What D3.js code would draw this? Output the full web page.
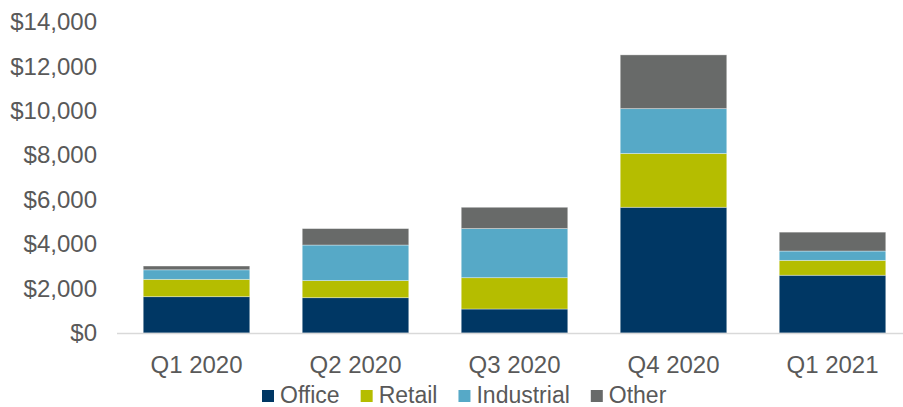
<!DOCTYPE html>
<html lang="en">
<head>
	<meta charset="UTF-8"/>
	<title>Stacked Bar Chart</title>
	<script src="https://d3js.org/d3.v7.min.js"></script>
	<style>
		body { margin: 0; background: #fff; }
	</style>
</head>
<body>
	<div id="chart"></div>

	<script>
	//Window Size
	var w = 903;
	var h = 407;

	//Data
	var quarters = ["Q1 2020", "Q2 2020", "Q3 2020", "Q4 2020", "Q1 2021"];
	var seriesNames = ["Office", "Retail", "Industrial", "Other"];
	var office = [1635, 1590, 1080, 5660, 2600];
	var retail = [780, 770, 1410, 2420, 670];
	var industrial = [430, 1600, 2210, 2020, 420];
	var other = [170, 740, 960, 2420, 850];
	var yTicks = [0, 2000, 4000, 6000, 8000, 10000, 12000, 14000];

	var colors = ["#003764", "#b5bd00", "#56a9c7", "#686a69"];
	var textColor = "#595959";

	//build rows for the stack layout
	var rows = quarters.map(function(q, i) {
		return {quarter: q, Office: office[i], Retail: retail[i], Industrial: industrial[i], Other: other[i]};
	});

	var stack = d3.stack().keys(seriesNames);
	var layers = stack(rows);

	//Scales
	var xScale = d3.scaleBand()
				.domain(quarters)
				.range([117, 912])
				.paddingInner(0.33)
				.paddingOuter(0.165);

	var yScale = d3.scaleLinear()
				.domain([0, 14000])
				.range([333, 22]);

	var colorScale = d3.scaleOrdinal()
				.domain(seriesNames)
				.range(colors);

	var svg = d3.select("#chart")
				.append("svg")
				.attr("width", w)
				.attr("height", h)
				.style("font-family", "'Liberation Sans', Arial, sans-serif");

	//Bars
	svg.selectAll("g.layer")
		.data(layers)
		.enter()
		.append("g")
		.attr("class", "layer")
		.attr("fill", function(d) {
			return colorScale(d.key);
		})
		.selectAll("rect")
		.data(function(d) { return d; })
		.enter()
		.append("rect")
		.attr("x", function(d) {
			return xScale(d.data.quarter);
		})
		.attr("y", function(d) {
			return yScale(d[1]);
		})
		.attr("width", xScale.bandwidth())
		.attr("height", function(d) {
			return yScale(d[0]) - yScale(d[1]);
		})
		.attr("stroke", "#ffffff")
		.attr("stroke-opacity", 0.45)
		.attr("stroke-width", 0.8);

	//baseline
	svg.append("line")
		.attr("x1", 117)
		.attr("x2", w)
		.attr("y1", yScale(0) + 0.5)
		.attr("y2", yScale(0) + 0.5)
		.attr("stroke", "#d9d9d9")
		.attr("stroke-width", 1.5);

	//Y axis
	var yAxis = d3.axisLeft(yScale)
				.tickValues(yTicks)
				.tickSize(0)
				.tickPadding(0)
				.tickFormat(function(d) {
					return "$" + d3.format(",")(d);
				});

	var yG = svg.append("g")
		.attr("transform", "translate(97,0)")
		.call(yAxis);
	yG.select(".domain").remove();
	yG.selectAll("text")
		.attr("fill", textColor)
		.attr("font-size", "24px")
		.attr("font-family", "'Liberation Sans', Arial, sans-serif");

	//X axis
	var xAxis = d3.axisBottom(xScale)
				.tickSize(0)
				.tickPadding(0);

	var xG = svg.append("g")
		.attr("transform", "translate(0,373)")
		.call(xAxis);
	xG.select(".domain").remove();
	xG.selectAll("text")
		.attr("dy", null)
		.attr("y", 0)
		.attr("fill", textColor)
		.attr("font-size", "24px")
		.attr("font-family", "'Liberation Sans', Arial, sans-serif");

	//Legend
	var legend = svg.append("g");
	var lx = 262;
	seriesNames.forEach(function(name, i) {
		legend.append("rect")
			.attr("x", lx)
			.attr("y", 390)
			.attr("width", 12)
			.attr("height", 12)
			.attr("fill", colorScale(name));
		var t = legend.append("text")
			.attr("x", lx + 18)
			.attr("y", 403)
			.attr("fill", textColor)
			.attr("font-size", "23px")
			.text(name);
		lx = lx + 18 + t.node().getComputedTextLength() + 21;
	});
	</script>
</body>
</html>
